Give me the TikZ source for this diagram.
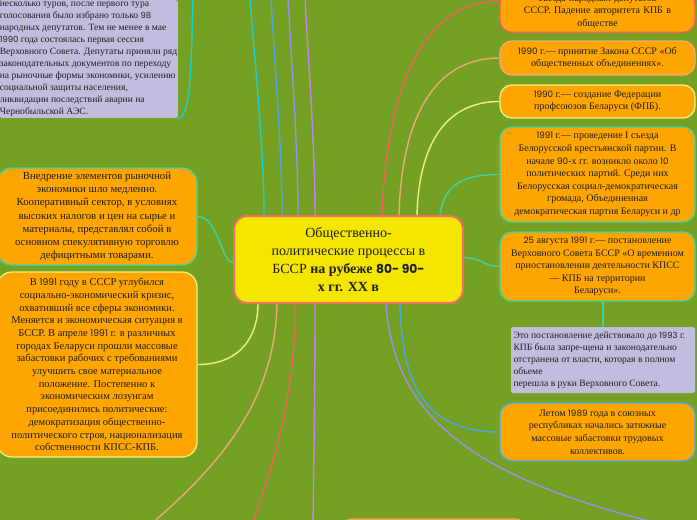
\documentclass[tikz,border=0pt]{standalone}
\usepackage{fontspec}
\setmainfont{Liberation Serif}
\newfontfamily\numfont[Scale=0.88]{Poppins}
\usepackage{tikz}
\usetikzlibrary{positioning}

\definecolor{bggreen}{RGB}{116,161,36}
\definecolor{boxorange}{RGB}{255,165,0}
\definecolor{notelav}{RGB}{194,189,223}
\definecolor{rootyellow}{RGB}{245,230,0}
\definecolor{rootline}{RGB}{240,112,96}
\definecolor{txt}{RGB}{30,30,30}
\definecolor{lcyan}{RGB}{30,207,201}
\definecolor{lblue}{RGB}{77,166,230}
\definecolor{lpurple}{RGB}{155,143,240}
\definecolor{lviolet}{RGB}{195,132,227}
\definecolor{lred}{RGB}{242,97,92}
\definecolor{lsalmon}{RGB}{239,169,120}
\definecolor{lpale}{RGB}{239,240,125}
\definecolor{lteal}{RGB}{63,211,162}

\newcommand\yr[1]{{\numfont #1}}
\newcommand\boxfont{\fontsize{10}{12.6}\selectfont}

\begin{document}
\begin{tikzpicture}[x=1pt, y=-1pt,
  topic/.style={draw=#1, line width=1.3pt, fill=boxorange, rounded corners=12pt,
    text=txt, align=center, inner sep=0pt, font=\boxfont},
  note/.style={fill=notelav, rounded corners=2pt, text=txt, align=flush left,
    inner ysep=3pt, font=\fontsize{9.6}{12}\selectfont},
  link/.style={draw=#1, line width=1.4pt}]

\useasboundingbox (0,0) rectangle (697,520);
\clip (0,0) rectangle (697,520);
\fill[bggreen] (0,0) rectangle (697,520);

% central topic
\node[topic=rootline, fill=rootyellow, line width=2pt, rounded corners=13pt,
  minimum width=229pt, minimum height=87pt, font=\fontsize{14}{18}\selectfont]
  (root) at (348.5,259.5)
  {Общественно-\\политические процессы в\\БССР \textbf{на рубеже \yr{80- 90-}}\\\textbf{х гг. XX в}};

% left side
\node[note, text width=178pt, inner xsep=0pt, inner ysep=1.5pt, anchor=south east] (sessia) at (178,118)
  {несколько туров, после первого тура\\
   голосования было избрано только \yr{98}\\
   народных депутатов. Тем не менее в мае\\
   \yr{1990} года состоялась первая сессия\\
   Верховного Совета. Депутаты приняли ряд\\
   законодательных документов по переходу\\
   на рыночные формы экономики, усилению\\
   социальной защиты населения,\\
   ликвидации последствий аварии на\\
   Чернобыльской АЭС.};

\node[topic=lteal, rounded corners=15pt, minimum width=200pt, minimum height=97pt,
  font=\fontsize{10.8}{13.2}\selectfont] (rynok) at (97,216.5)
  {Внедрение элементов рыночной\\экономики шло медленно.\\Кооперативный сектор, в условиях\\
   высоких налогов и цен на сырье и\\материалы, представлял собой в\\
   основном спекулятивную торговлю\\дефицитными товарами.};

\node[topic=lpale, rounded corners=15pt, minimum width=200pt, minimum height=185pt,
  font=\fontsize{10.5}{12.7}\selectfont] (krizis) at (97,364.5)
  {В \yr{1991} году в СССР углубился\\социально-экономический кризис,\\
   охвативший все сферы экономики.\\Меняется и экономическая ситуация в\\
   БССР. В апреле \yr{1991} г. в различных\\городах Беларуси прошли массовые\\
   забастовки рабочих с требованиями\\улучшить свое материальное\\
   положение. Постепенно к\\экономическим лозунгам\\присоединились политические:\\
   демократизация общественно-\\политического строя, национализация\\
   собственности КПСС-КПБ.};

% right side
\node[topic=lred, minimum width=195pt, anchor=south, inner ysep=4pt, text width=195pt]
  (kpb) at (597.5,33)
  {съезда народных депутатов\\СССР. Падение авторитета КПБ в\\обществе};

\node[topic=lsalmon, minimum width=195pt, minimum height=34pt] (zakon) at (597.5,58)
  {\yr{1990} г.— принятие Закона СССР «Об\\общественных объединениях».};

\node[topic=lpale, minimum width=195pt, minimum height=33pt] (fpb) at (597.5,101.5)
  {\yr{1990} г.— создание Федерации\\профсоюзов Беларуси (ФПБ).};

\node[topic=lteal, minimum width=195pt, minimum height=95pt] (partii) at (597.5,174.5)
  {\yr{1991} г.— проведение I съезда\\Белорусской крестьянской партии. В\\
   начале \yr{90}-х гг. возникло около \yr{10}\\политических партий. Среди них\\
   Белорусская социал-демократическая\\громада, Объединенная\\
   демократическая партия Беларуси и др};

\node[topic=lteal, minimum width=195pt, minimum height=69pt] (postan) at (597.5,266.5)
  {\yr{25} августа \yr{1991} г.— постановление\\Верховного Совета БССР «О временном\\
   приостановлении деятельности КПСС\\— КПБ на территории\\Беларуси».};

\node[note, text width=179pt, inner xsep=2.5pt, minimum height=66pt] (zapret) at (603,360)
  {Это постановление действовало до \yr{1993} г.\\
   КПБ была запре-щена и законодательно\\
   отстранена от власти, которая в полном\\
   объеме\\
   перешла в руки Верховного Совета.};

\node[topic=lblue, minimum width=195pt, minimum height=58pt] (zabast) at (597.5,432)
  {Летом \yr{1989} года в союзных\\республиках начались затяжные\\
   массовые забастовки трудовых\\коллективов.};

\node[topic=lsalmon, minimum width=187pt, minimum height=42pt] (niz) at (433.5,540) {};

% free ends off the picture
\coordinate (up1) at (250,-3);
\coordinate (up2) at (271,-3);
\coordinate (up3) at (288,-3);
\coordinate (up4) at (305,-3);
\coordinate (up5) at (193,-3);
\coordinate (dn1) at (150,525);
\coordinate (dn2) at (252,525);
\coordinate (dn3) at (313,525);
\coordinate (dn4) at (665,525);

% connectors
\draw[link=lcyan] ([xshift=31pt]root.north west) .. controls +(0,-70) and +(4,60) .. (up1);
\draw[link=lblue] ([xshift=49pt]root.north west) .. controls +(0,-70) and +(3,60) .. (up2);
\draw[link=lpurple] ([xshift=65pt]root.north west) .. controls +(0,-70) and +(3,60) .. (up3);
\draw[link=lviolet] ([xshift=82pt]root.north west) .. controls +(0,-70) and +(3,60) .. (up4);
\draw[link=lcyan] (up5) .. controls +(-2,80) and +(12,0) .. (sessia.south east);

\draw[link=lred] ([xshift=149pt]root.north west) .. controls +(5,-140) and +(-70,0) .. ([yshift=11pt]kpb.west);
\draw[link=lsalmon] ([xshift=166pt]root.north west) .. controls +(3,-106) and +(-60,0) .. (zakon.west);
\draw[link=lpale] ([xshift=184pt]root.north west) .. controls +(2,-76) and +(-50,0) .. (fpb.west);
\draw[link=lteal] ([xshift=207pt]root.north west) .. controls +(4,-31) and +(-35,0) .. (partii.west);
\draw[link=lteal] ([yshift=2pt]root.east) .. controls +(17,0) and +(-15,0) .. (postan.west);
\draw[link=lteal] (postan.south -| zapret.north) -- (zapret.north);

\draw[link=lblue] ([xshift=167pt]root.south west) .. controls +(2,87) and +(-70,0) .. (zabast.west);
\draw[link=lpurple] ([xshift=153pt]root.south west) .. controls +(8,117) and +(-185,-45) .. (dn4);

\draw[link=lteal] (rynok.east) .. controls +(21,0) and +(-12,0) .. ([yshift=-3pt]root.west);
\draw[link=lpale] (krizis.east) .. controls +(43,0) and +(0,32) .. ([xshift=25pt]root.south west);
\draw[link=lsalmon] ([xshift=44pt]root.south west) .. controls +(-2,97) and +(70,-60) .. (dn1);
\draw[link=lred] ([xshift=63pt]root.south west) .. controls +(-2,97) and +(23,-65) .. (dn2);
\draw[link=lviolet] ([xshift=82pt]root.south west) .. controls +(0,80) and +(1,-80) .. (dn3);

\end{tikzpicture}
\end{document}
